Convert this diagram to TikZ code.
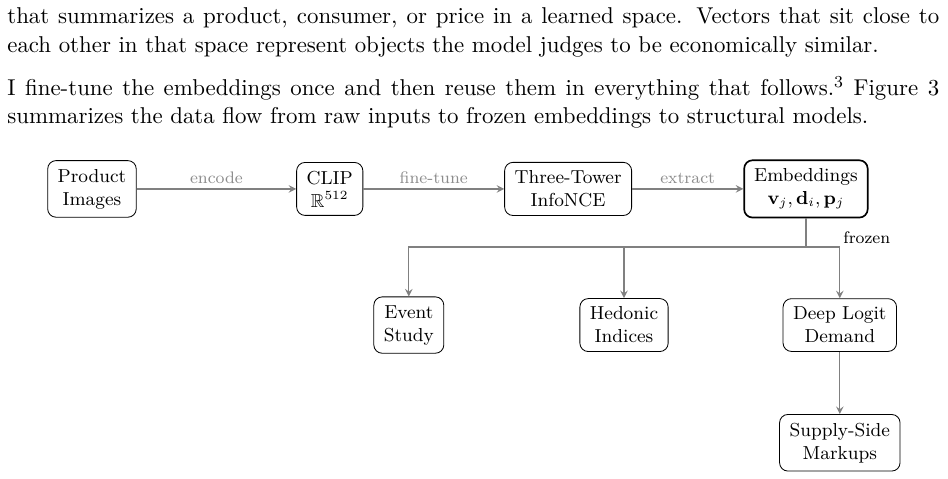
\documentclass[tikz,border=0pt]{standalone}
\usepackage{amssymb}
\usetikzlibrary{positioning}

\begin{document}
\begin{tikzpicture}
  \tikzstyle{box}=[draw, rounded corners=4pt, align=center, font=\fontsize{9}{11}\selectfont, inner xsep=4.8pt, inner ysep=4pt]
  \tikzstyle{arr}=[->, >=stealth, semithick, draw=black!50]
  \tikzstyle{lab}=[font=\fontsize{8}{9.5}\selectfont, text=black!45, inner sep=2pt]
  \useasboundingbox (-1.547,-4.877) rectangle (14.40,3.178);

  % Text of the page above the figure
  \node[anchor=north west, inner sep=0pt, text width=446pt, align=justify, font=\fontsize{10.95}{13.6}\selectfont] (body) at (-1.43,3.05)
    {\parindent=0pt\parskip=7pt
     that summarizes a product, consumer, or price in a learned space. Vectors that sit close to\linebreak each other in that space represent objects the model judges to be economically similar.\par
     I fine-tune the embeddings once and then reuse them in everything that follows.\textsuperscript{3} Figure 3\linebreak summarizes the data flow from raw inputs to frozen embeddings to structural models.};

  % Top row: from raw images to embeddings
  \node[box] (img) at (0,0) {Product\\Images};
  \node[box] (clip) at (4.00,0) {CLIP\\$\mathbb{R}^{512}$};
  \node[box] (tower) at (8.01,0) {Three-Tower\\InfoNCE};
  \node[box, thick] (emb) at (12.01,0) {Embeddings\\$\mathbf{v}_j, \mathbf{d}_i, \mathbf{p}_j$};

  \draw[arr] (img) -- node[lab, above] {encode} (clip);
  \draw[arr] (clip) -- node[lab, above] {fine-tune} (tower);
  \draw[arr] (tower) -- node[lab, above] {extract} (emb);

  % Structural models, all fed by the frozen embeddings
  \node[box] (event) at (5.33,-2.29) {Event\\Study};
  \node[box] (hedonic) at (8.95,-2.29) {Hedonic\\Indices};
  \node[box] (deep) at (12.58,-2.29) {Deep Logit\\Demand};
  \node[box] (supply) at (12.58,-4.27) {Supply-Side\\Markups};

  \coordinate (split) at (12.01,-0.975);
  \draw[arr, -] (emb.south) -- (split);
  \draw[arr] (split) -| (event.north);
  \draw[arr] (split) -| (hedonic.north);
  \draw[arr] (split) -| (deep.north);
  \node[font=\fontsize{8}{9.5}\selectfont, anchor=south west, inner sep=1.5pt] (frozen) at (deep.north |- split) {frozen};

  \draw[arr] (deep) -- (supply);
\end{tikzpicture}
\end{document}
